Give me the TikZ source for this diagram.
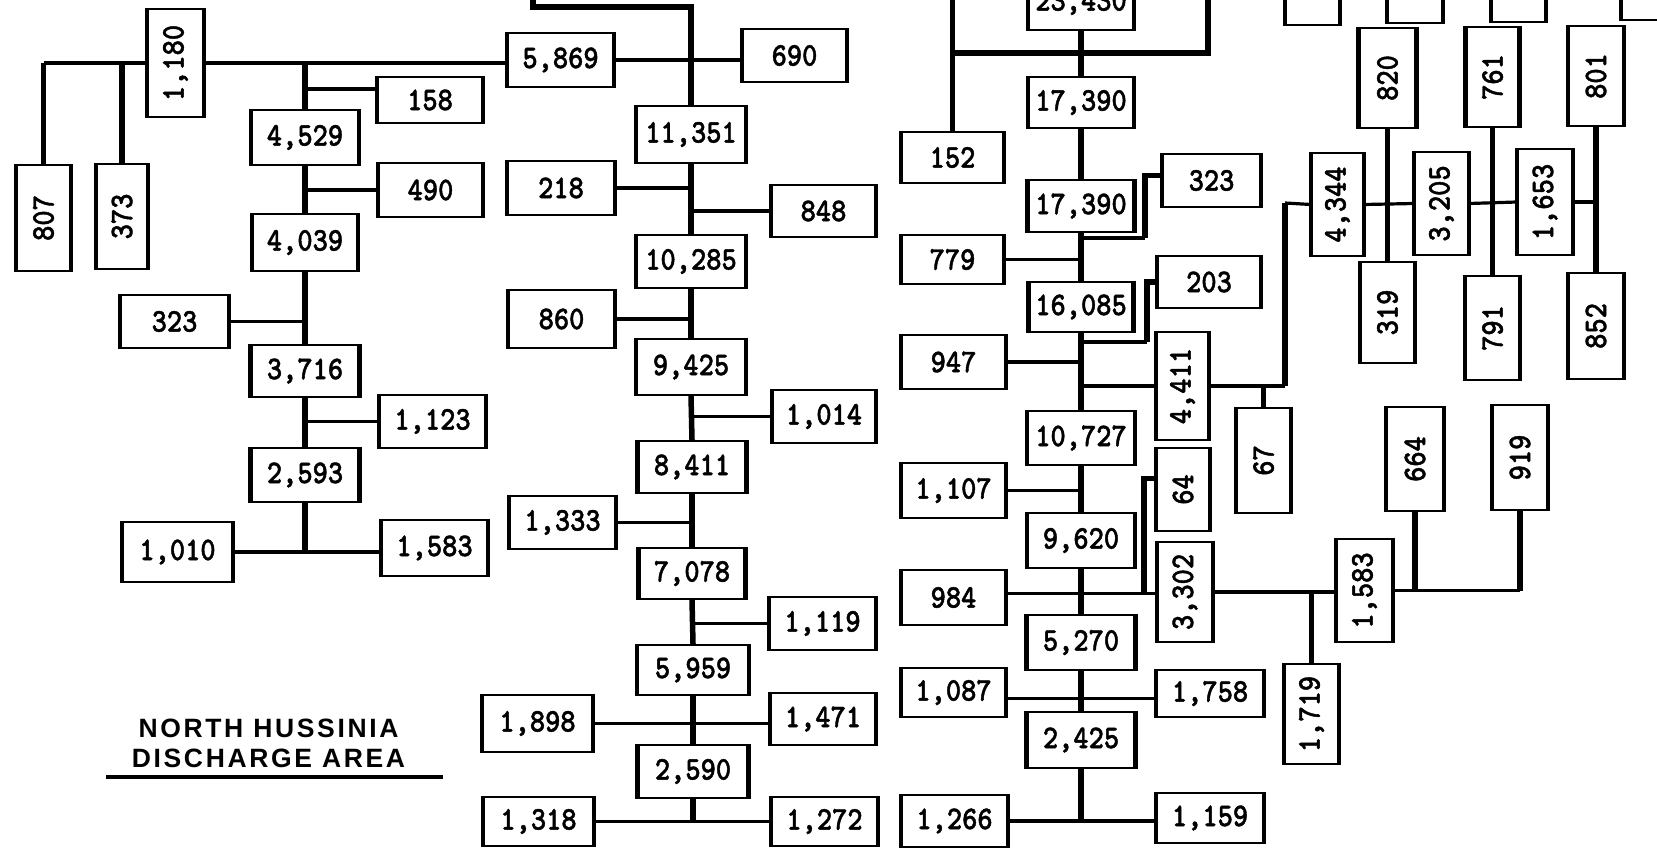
\documentclass[tikz,border=0pt]{standalone}
\usepackage{fontspec}
\usepackage{graphicx}
\newfontfamily\numfont[FakeStretch=0.88,FakeBold=1.3]{lmmonolt10-bold.otf}
\newfontfamily\titlefont[LetterSpace=10]{Liberation Sans}
\newcommand\rv[1]{\rotatebox{90}{#1}}
\newcommand\bxnode[6]{\node[bx, minimum width=#4pt, minimum height=#5pt] (#1) at (#2,#3) {#6};}
\begin{document}
\begin{tikzpicture}[x=1pt,y=-1pt,
  bx/.style={draw, line width=2.3pt, inner sep=0pt, font=\numfont\fontsize{33}{33}\selectfont,
    append after command={\pgfextra{\draw[line width=3.8pt] (\tikzlastnode.north west) -- (\tikzlastnode.south west) (\tikzlastnode.north east) -- (\tikzlastnode.south east);}}},
  trunk/.style={line width=5.5pt},
  branch/.style={line width=3.2pt},
  ttl/.style={font=\titlefont\bfseries\fontsize{26.5}{30}\selectfont, inner sep=0pt, anchor=base}]
\useasboundingbox (0,0) rectangle (1657,851);
\fill[white] (0,0) rectangle (1657,851);
\clip (0,0) rectangle (1657,851);

% ---------- left column ----------
\bxnode{b4529}{305}{137.5}{106}{55}{4,529}
\bxnode{b4039}{305}{242.5}{104}{57}{4,039}
\bxnode{b3716}{305}{371}{107}{52}{3,716}
\bxnode{b2593}{305}{475}{107}{54}{2,593}
\bxnode{b1180}{175.5}{63}{55}{108}{\rv{1,180}}
\bxnode{b807}{43.5}{218}{53}{106}{\rv{807}}
\bxnode{b373}{122}{216.5}{50}{105}{\rv{373}}
\bxnode{b158}{430}{100}{104}{46}{158}
\bxnode{b490}{430.5}{190}{103}{54}{490}
\bxnode{b323L}{174.5}{321.5}{107}{53}{323}
\bxnode{b1123}{432.5}{421.5}{105}{53}{1,123}
\bxnode{b1010}{177.5}{552}{109}{60}{1,010}
\bxnode{b1583L}{434.5}{548}{105}{56}{1,583}

% ---------- middle column ----------
\bxnode{b11351}{691}{134.5}{108}{57}{11,351}
\bxnode{b10285}{691}{261.5}{108}{53}{10,285}
\bxnode{b9425}{691}{367}{108}{56}{9,425}
\bxnode{b8411}{692}{467}{107}{52}{8,411}
\bxnode{b7078}{692}{573.5}{105}{51}{7,078}
\bxnode{b5959}{693}{670}{110}{50}{5,959}
\bxnode{b2590}{693}{771.5}{109}{53}{2,590}
\bxnode{b5869}{560.5}{60}{105}{54}{5,869}
\bxnode{b690}{794.5}{55.5}{103}{53}{690}
\bxnode{b218}{561}{188}{106}{54}{218}
\bxnode{b848}{823.5}{211}{103}{52}{848}
\bxnode{b860}{561.5}{319}{105}{58}{860}
\bxnode{b1014}{824}{416.5}{102}{53}{1,014}
\bxnode{b1333}{562.5}{522.5}{105}{53}{1,333}
\bxnode{b1119}{822.5}{623.5}{105}{53}{1,119}
\bxnode{b1898}{537.5}{723.5}{109}{57}{1,898}
\bxnode{b1471}{823}{719}{104}{52}{1,471}
\bxnode{b1318}{538.5}{821.5}{109}{49}{1,318}
\bxnode{b1272}{824.5}{821.5}{105}{49}{1,272}

% ---------- right column ----------
\bxnode{b23430}{1081}{2.5}{104}{55}{23,430}
\bxnode{b17390a}{1081}{102.5}{104}{51}{17,390}
\bxnode{b17390b}{1081}{206}{105}{52}{17,390}
\bxnode{b16085}{1081}{307}{103}{50}{16,085}
\bxnode{b10727}{1081}{438}{106}{54}{10,727}
\bxnode{b9620}{1081}{540.5}{106}{55}{9,620}
\bxnode{b5270}{1081}{642.5}{107}{55}{5,270}
\bxnode{b2425}{1081}{740}{107}{56}{2,425}
\bxnode{b152}{952.5}{157.5}{101}{51}{152}
\bxnode{b779}{952.5}{259.5}{101}{49}{779}
\bxnode{b323R}{1211.5}{180.5}{97}{53}{323}
\bxnode{b203}{1209}{282}{102}{52}{203}
\bxnode{b947}{953.5}{362}{103}{54}{947}
\bxnode{b4411}{1182.5}{386}{51}{108}{\rv{4,411}}
\bxnode{b1107}{953.5}{490.5}{103}{55}{1,107}
\bxnode{b64}{1183}{489.5}{52}{83}{\rv{64}}
\bxnode{b984}{953.5}{597.5}{103}{55}{984}
\bxnode{b3302}{1185}{592}{54}{100}{\rv{3,302}}
\bxnode{b1087}{953.5}{692.5}{103}{49}{1,087}
\bxnode{b1758}{1210}{693.5}{106}{47}{1,758}
\bxnode{b1266}{954.5}{821}{105}{52}{1,266}
\bxnode{b1159}{1210}{818}{106}{50}{1,159}

% ---------- far right ----------
\bxnode{tA}{1312.5}{-10}{53}{70}{}
\bxnode{tB}{1415}{-12}{54}{70}{}
\bxnode{tC}{1518.5}{-13}{53}{70}{}
\bxnode{tD}{1650}{-15}{56}{70}{}
\bxnode{b820}{1387.5}{78}{56}{100}{\rv{820}}
\bxnode{b761}{1492.5}{77}{52}{100}{\rv{761}}
\bxnode{b801}{1596}{76}{54}{100}{\rv{801}}
\bxnode{b4344}{1337.5}{204.5}{51}{103}{\rv{4,344}}
\bxnode{b3205}{1441.5}{203.5}{53}{103}{\rv{3,205}}
\bxnode{b1653}{1545}{202}{54}{106}{\rv{1,653}}
\bxnode{b319}{1387.5}{312.5}{53}{101}{\rv{319}}
\bxnode{b791}{1492.5}{328}{53}{104}{\rv{791}}
\bxnode{b852}{1596}{326}{54}{106}{\rv{852}}
\bxnode{b67}{1263.5}{460.5}{53}{105}{\rv{67}}
\bxnode{b664}{1415}{459}{56}{104}{\rv{664}}
\bxnode{b919}{1520}{457.5}{54}{105}{\rv{919}}
\bxnode{b1583R}{1364.5}{590.5}{55}{103}{\rv{1,583}}
\bxnode{b1719}{1311.5}{714}{53}{100}{\rv{1,719}}

% ---------- title ----------
\node[ttl] (title1) at (268.5,737) {NORTH HUSSINIA};
\node[ttl] (title2) at (268.5,767) {DISCHARGE AREA};
\draw[line width=4pt] (106,777) -- (443,777);

% ---------- left connectors ----------
\draw[branch] (b1180.west) -- (b1180.west -| b807.north);
\draw[trunk] (b1180.west -| b807.north) -- (b807.north);
\draw[trunk] (b1180.west -| b373.north) -- (b373.north);
\draw[branch] (b1180.east) -- (b1180.east -| b5869.west);
\draw[trunk] (b1180.east -| b4529.north) -- (b4529.north);
\draw[branch] ([yshift=11pt]b158.west) -- ([yshift=11pt]b158.west -| b4529.north);
\draw[trunk] (b4529.south) -- (b4039.north);
\draw[branch] (b490.west) -- (b490.west -| b4529.south);
\draw[trunk] (b4039.south) -- (b3716.north);
\draw[branch] (b323L.east) -- (b323L.east -| b4039.south);
\draw[trunk] (b3716.south) -- (b2593.north);
\draw[branch] (b1123.west) -- (b1123.west -| b3716.south);
\draw[trunk] (b2593.south) -- (b2593.south |- b1010.east);
\draw[branch] (b1010.east) -- (b1010.east -| b1583L.west);

% ---------- middle connectors ----------
\coordinate (topL) at (533,-5);
\coordinate (topC) at (533,7);
\draw[trunk] (topL) -- (topC) -- (topC -| b11351.north) -- (b11351.north);
\draw[branch] (b5869.east) -- (b5869.east -| b690.west);
\draw[trunk] (b11351.south) -- (b10285.north);
\draw[trunk] (b10285.south) -- (b9425.north);
\draw[trunk] (b9425.south) -- (b8411.north);
\draw[trunk] (b8411.south) -- (b7078.north);
\draw[trunk] (b7078.south) -- (b5959.north);
\draw[trunk] (b5959.south) -- (b2590.north);
\draw[branch] (b218.east) -- (b218.east -| b11351.south);
\draw[branch] (b848.west) -- (b848.west -| b11351.south);
\draw[branch] (b860.east) -- (b860.east -| b10285.south);
\draw[branch] (b1014.west) -- (b1014.west -| b9425.south);
\draw[branch] (b1333.east) -- (b1333.east -| b8411.south);
\draw[branch] (b1119.west) -- (b1119.west -| b7078.south);
\draw[branch] (b1898.east) -- (b1898.east -| b1471.west);
\draw[branch] (b1318.east) -- (b1318.east -| b1272.west);
\draw[trunk] (b2590.south) -- (b2590.south |- b1318.east);

% ---------- right connectors ----------
\draw[trunk] (b23430.south) -- (b17390a.north);
\coordinate (tl) at (952.5,-5);
\coordinate (tr) at (1208,-5);
\coordinate (hl) at (1208,53);
\draw[trunk] (tl) -- (b152.north);
\draw[trunk] (tr) -- (hl) -- (hl -| b152.north);
\draw[trunk] (b17390a.south) -- (b17390b.north);
\draw[trunk] (b17390b.south) -- (b16085.north);
\coordinate (c323) at (1145,238);
\draw[branch] (c323 -| b17390b.south) -- (c323);
\draw[trunk] (c323) |- ([yshift=5pt]b323R.west);
\draw[branch] (b779.east) -- (b779.east -| b16085.north);
\coordinate (c203) at (1147,342);
\draw[branch] (c203 -| b16085.south) -- (c203);
\draw[trunk] (c203) |- (b203.west);
\draw[branch] (b947.east) -- (b947.east -| b16085.south);
\draw[branch] (b4411.west) -- (b4411.west -| b16085.south);
\draw[trunk] (b16085.south) -- (b10727.north);
\draw[branch] (b1107.east) -- (b1107.east -| b10727.south);
\draw[trunk] (b10727.south) -- (b9620.north);
\draw[trunk] (b9620.south) -- (b5270.north);
\draw[branch] ([yshift=4pt]b984.east) -- ([yshift=4pt]b984.east -| b3302.west);
\coordinate (c64) at (1144,593);
\draw[trunk] (c64) |- ([yshift=11pt]b64.west);
\draw[branch] (b3302.east) -- (b3302.east -| b1583R.west);
\draw[trunk] (b1719.north) -- (b1719.north |- b1583R.west);
\draw[branch] (b1583R.east) -- (b1583R.east -| b919.south);
\draw[trunk] (b664.south) -- (b664.south |- b1583R.east);
\draw[trunk] (b919.south) -- (b919.south |- b1583R.east);
\draw[trunk] (b5270.south) -- (b2425.north);
\draw[branch] ([yshift=-6pt]b1087.east) -- ([yshift=-6pt]b1087.east -| b1758.west);
\draw[trunk] (b2425.south) -- (b2425.south |- b1266.east);
\draw[branch] (b1266.east) -- (b1266.east -| b1159.west);

% ---------- far right connectors ----------
\coordinate (cR) at (1285,203);
\draw[branch] (b4411.east) -- (b4411.east -| cR);
\draw[trunk] (b4411.east -| cR) -- (cR);
\draw[branch] (cR) -- (b4344.west);
\draw[branch] (b4344.east) -- (b3205.west);
\draw[branch] (b3205.east) -- (b1653.west);
\draw[branch] (b1653.east) -- (b1653.east -| b801.south);
\draw[trunk] (b820.south) -- (b319.north);
\draw[trunk] (b761.south) -- (b791.north);
\draw[trunk] (b801.south) -- (b852.north);
\draw[trunk] (b67.north) -- (b67.north |- b4411.east);
\end{tikzpicture}
\end{document}
